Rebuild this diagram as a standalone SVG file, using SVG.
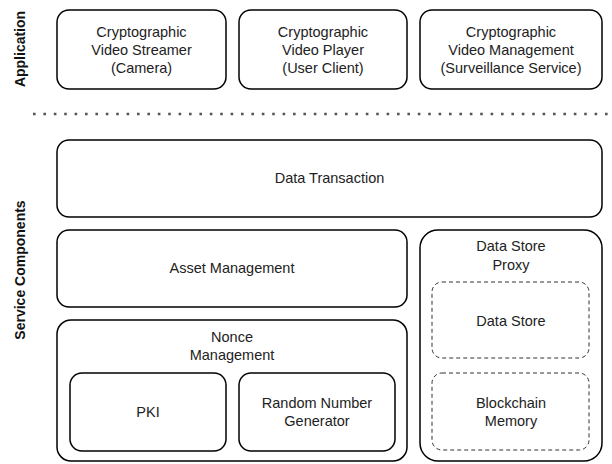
<svg xmlns="http://www.w3.org/2000/svg" width="612" height="464" viewBox="0 0 612 464">
<style>
.box{fill:#fff;stroke:#000;stroke-width:1.5}
.dbox{fill:#fff;stroke:#333;stroke-width:1;stroke-dasharray:4 3}
text{font-family:"Liberation Sans",Arial,sans-serif;font-size:14.5px;fill:#222;text-anchor:middle;dominant-baseline:central}
.lbl{font-weight:bold;font-size:14px;fill:#111}
</style>
<rect width="612" height="464" fill="#fff"/>
<g id="layer-labels">
<text class="lbl" transform="translate(20,49) rotate(-90)">Application</text>
<text class="lbl" transform="translate(20,270) rotate(-90)">Service Components</text>
</g>
<g id="connectors">
<line x1="33" y1="114" x2="612" y2="114" stroke="#555" stroke-width="2.6" stroke-dasharray="2.6 7.8"/>
</g>
<g id="node-streamer">
<rect class="box" x="57" y="10" width="169" height="79" rx="12"/>
<text x="141.5" y="32">Cryptographic</text>
<text x="141.5" y="50">Video Streamer</text>
<text x="141.5" y="68">(Camera)</text>
</g>
<g id="node-player">
<rect class="box" x="239" y="10" width="168" height="79" rx="12"/>
<text x="323" y="32">Cryptographic</text>
<text x="323" y="50">Video Player</text>
<text x="323" y="68">(User Client)</text>
</g>
<g id="node-management">
<rect class="box" x="420" y="10" width="182" height="79" rx="12"/>
<text x="511" y="32">Cryptographic</text>
<text x="511" y="50">Video Management</text>
<text x="511" y="68">(Surveillance Service)</text>
</g>
<g id="node-transaction">
<rect class="box" x="57" y="140" width="545" height="77" rx="12"/>
<text x="329.5" y="178">Data Transaction</text>
</g>
<g id="node-asset">
<rect class="box" x="57" y="230" width="350" height="77" rx="12"/>
<text x="232" y="268">Asset Management</text>
</g>
<g id="node-nonce">
<rect class="box" x="57" y="320" width="350" height="141" rx="14"/>
<text x="232" y="337">Nonce</text>
<text x="232" y="355">Management</text>
</g>
<g id="node-pki">
<rect class="box" x="70" y="373" width="156" height="78" rx="12"/>
<text x="148" y="412">PKI</text>
</g>
<g id="node-rng">
<rect class="box" x="239" y="373" width="156" height="78" rx="12"/>
<text x="317" y="403">Random Number</text>
<text x="317" y="421">Generator</text>
</g>
<g id="node-proxy">
<rect class="box" x="420" y="230" width="182" height="231" rx="18"/>
<text x="511" y="246">Data Store</text>
<text x="511" y="265">Proxy</text>
</g>
<g id="node-datastore">
<rect class="dbox" x="432" y="282" width="157" height="76" rx="10"/>
<text x="511" y="321">Data Store</text>
</g>
<g id="node-blockchain">
<rect class="dbox" x="432" y="373" width="157" height="77" rx="10"/>
<text x="511" y="403">Blockchain</text>
<text x="511" y="421">Memory</text>
</g>
</svg>
